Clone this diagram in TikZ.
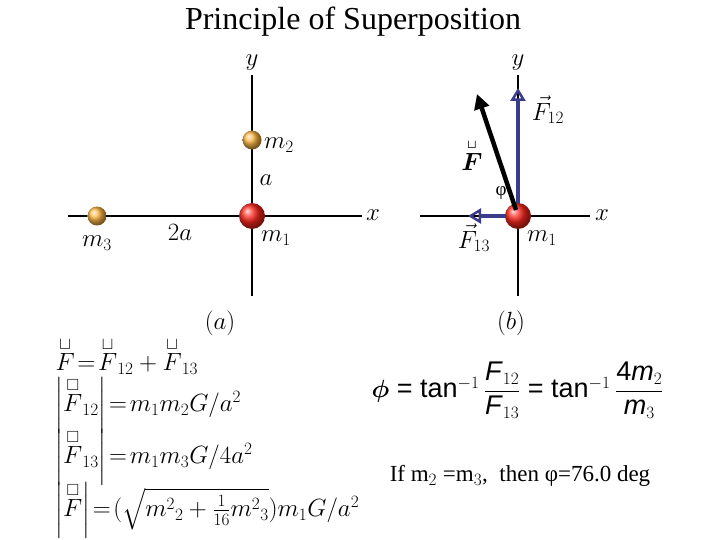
\documentclass[tikz,border=0pt]{standalone}
\usepackage{amsmath,amssymb}
\usepackage{fontspec}
\setmainfont{Liberation Serif}
\newfontfamily\arialf{Liberation Sans}
\usetikzlibrary{arrows.meta}
\definecolor{navy}{RGB}{60,60,140}
\definecolor{orng}{RGB}{255,185,70}
\definecolor{rball}{RGB}{255,40,30}
\tikzset{ax/.style={line width=1.4pt},
 lbl/.style={font=\fontsize{23}{25}\selectfont},
 eq/.style={anchor=west,font=\fontsize{23}{25}\selectfont},
 fvec/.style={navy,line width=4pt,-{Triangle[open,length=13pt,width=15pt,line width=2.5pt]}}}
\begin{document}
\begin{tikzpicture}[x=1pt,y=-1pt]
\useasboundingbox[fill=white] (0,0) rectangle (720,540);
\node[font=\fontsize{32}{34}\selectfont] (title) at (353,22) {Principle of Superposition};
% left diagram
\coordinate (lxl) at (68,216); \coordinate (lxr) at (362,216);
\coordinate (lyt) at (252,75); \coordinate (lyb) at (252,296);
\draw[ax] (lxl) -- (lxr); \draw[ax] (lyt) -- (lyb);
\node[lbl] (ly) at (252,63) {$y$}; \node[lbl] (lx) at (373,215) {$x$};
\shade[ball color=orng] (252,140) circle (9.5);
\shade[ball color=rball] (252,216) circle (13);
\shade[ball color=orng] (97,216) circle (9.5);
\node[lbl] (m2) at (279,145) {$m_2$};
\node[lbl] (la) at (266,180) {$a$};
\node[lbl] (m1) at (276,238) {$m_1$};
\node[lbl] (m3) at (97,243) {$m_3$};
\node[lbl] (l2a) at (180,232) {$2a$};
\node[lbl] (pa) at (220,323) {$(a)$};
% right diagram
\coordinate (rxl) at (420,216); \coordinate (rxr) at (590,216);
\coordinate (ryt) at (518,75); \coordinate (ryb) at (518,296);
\draw[ax] (rxl) -- (rxr); \draw[ax] (ryt) -- (ryb);
\node[lbl] (ry) at (518,63) {$y$}; \node[lbl] (rx) at (602,215) {$x$};
\coordinate (o) at (518,216); \coordinate (f12) at (518,88); \coordinate (f13) at (468,216);
\draw[fvec] (o) -- (f12);
\draw[fvec] (o) -- (f13);
\shade[ball color=rball] (o) circle (13);
\coordinate (fs) at (516,210); \coordinate (fe) at (477,94);
\draw[line width=4.5pt,-{Triangle[length=15pt,width=15pt]}] (fs) -- (fe);
\node[lbl] (lf12) at (548,110) {$\vec{F}_{12}$};
\node[lbl] (lf13) at (474,238) {$\vec{F}_{13}$};
\node[font=\fontsize{26}{28}\selectfont] (lF) at (472,155) {$\boldsymbol{\overset{\scriptscriptstyle\sqcup}{F}}$};
\node[font=\fontsize{19}{21}\selectfont] (phi) at (501,193) {φ};
\node[lbl] (rm1) at (542,238) {$m_1$};
\node[lbl] (pb) at (511,323) {$(b)$};
% equations
\node[eq] (e1) at (52,356) {$\overset{\sqcup}{F}\!=\!\overset{\sqcup}{F}_{12}+\overset{\sqcup}{F}_{13}$};
\node[eq] (e2) at (52,405) {$\left|\overset{\square}{F}_{12}\right|\!=\!m_1m_2G/a^2$};
\node[eq] (e3) at (52,457) {$\left|\overset{\square}{F}_{13}\right|\!=\!m_1m_3G/4a^2$};
\node[eq] (e4) at (52,510) {$\left|\overset{\square}{F}\right|\!=\!(\sqrt{m^2{}_2+\tfrac{1}{16}m^2{}_3})m_1G/a^2$};
\node[anchor=west,font=\arialf\fontsize{27}{29}\selectfont] (e5) at (368,390)
 {$\boldsymbol{\phi}$ = tan$^{-1}$\,$\dfrac{\text{\textit{F}}_{12}}{\text{\textit{F}}_{13}}$ = tan$^{-1}$\,$\dfrac{\text{4\textit{m}}_2}{\text{\textit{m}}_3}$};
\node[font=\fontsize{23}{25}\selectfont] (e6) at (520,476) {If m$_2$ =m$_3$, \ then φ=76.0 deg};
\end{tikzpicture}
\end{document}
